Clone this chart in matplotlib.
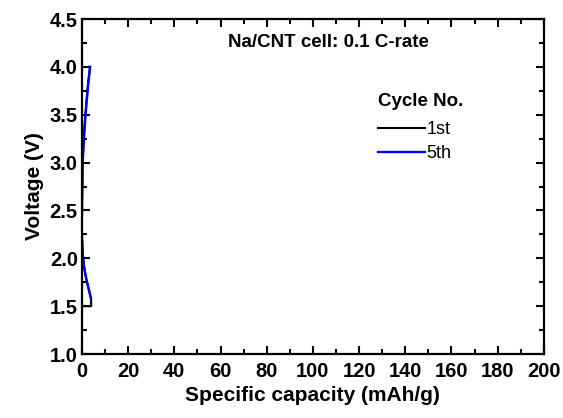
import numpy as np
import matplotlib.pyplot as plt
from matplotlib.ticker import MultipleLocator

plt.rcParams['font.family'] = ['Liberation Sans', 'DejaVu Sans']

# 1st cycle: discharge then charge (capacity in mAh/g, voltage in V)
cap_1st = [0.0, 0.3, 0.8, 1.4, 2.0, 2.7, 3.3, 3.9, 4.0, 0.0, 0.0, 0.0, 0.3, 0.8, 1.4, 2.0, 2.7, 3.5]
volt_1st = [2.25, 2.05, 1.93, 1.84, 1.77, 1.70, 1.64, 1.58, 1.50, 1.50, 2.0, 2.6, 3.05, 3.28, 3.48, 3.66, 3.84, 4.0]

# 5th cycle (gap between discharge and charge)
cap_5th = [0.0, 0.3, 0.8, 1.3, 2.0, 2.6, 3.2, 3.9, None, 0.0, 0.3, 0.9, 1.4, 2.0, 2.7, 3.5]
volt_5th = [2.2, 2.05, 1.93, 1.86, 1.77, 1.71, 1.65, 1.58, None, 2.45, 3.0, 3.25, 3.45, 3.63, 3.82, 4.0]

cap_5th = np.array([np.nan if v is None else v for v in cap_5th])
volt_5th = np.array([np.nan if v is None else v for v in volt_5th])

fig, ax = plt.subplots(figsize=(5.63, 4.18), dpi=100)
fig.subplots_adjust(left=0.1456, right=0.966, top=0.9545, bottom=0.153)

ax.plot(cap_1st, volt_1st, color='black', lw=1.5, label='1st')
ax.plot(cap_5th, volt_5th, color='blue', lw=1.7, label='5th')

ax.set_xlim(0, 200)
ax.set_ylim(1.0, 4.5)
ax.xaxis.set_major_locator(MultipleLocator(20))
ax.xaxis.set_minor_locator(MultipleLocator(10))
ax.yaxis.set_major_locator(MultipleLocator(0.5))
ax.yaxis.set_minor_locator(MultipleLocator(0.25))
ax.tick_params(which='both', direction='in', top=True, right=True, width=1.5)
ax.tick_params(which='major', length=6, labelsize=14.5)
ax.tick_params(axis='x', which='major', pad=6)
ax.tick_params(axis='y', which='major', pad=3)
ax.tick_params(which='minor', length=3.5)
for lab in ax.get_xticklabels() + ax.get_yticklabels():
    lab.set_fontweight('bold')
for s in ax.spines.values():
    s.set_linewidth(1.6)

ax.set_xlabel('Specific capacity (mAh/g)', fontsize=15, fontweight='bold', labelpad=3)
ax.set_ylabel('Voltage (V)', fontsize=15, fontweight='bold', labelpad=4)

ax.text(0.533, 0.93, 'Na/CNT cell: 0.1 C-rate', transform=ax.transAxes,
        ha='center', va='center', fontsize=13.5, fontweight='bold')

leg = ax.legend(title='Cycle No.', frameon=False, loc='upper left',
                bbox_to_anchor=(0.64, 0.78), fontsize=13, handlelength=2.6,
                handletextpad=0.12, labelspacing=0.42, borderpad=0,
                borderaxespad=0)
leg.get_title().set_fontweight('bold')
leg.get_title().set_fontsize(13.5)
leg._legend_box.align = 'left'
leg._legend_box.sep = 8

fig.savefig('out.png', dpi=100)
